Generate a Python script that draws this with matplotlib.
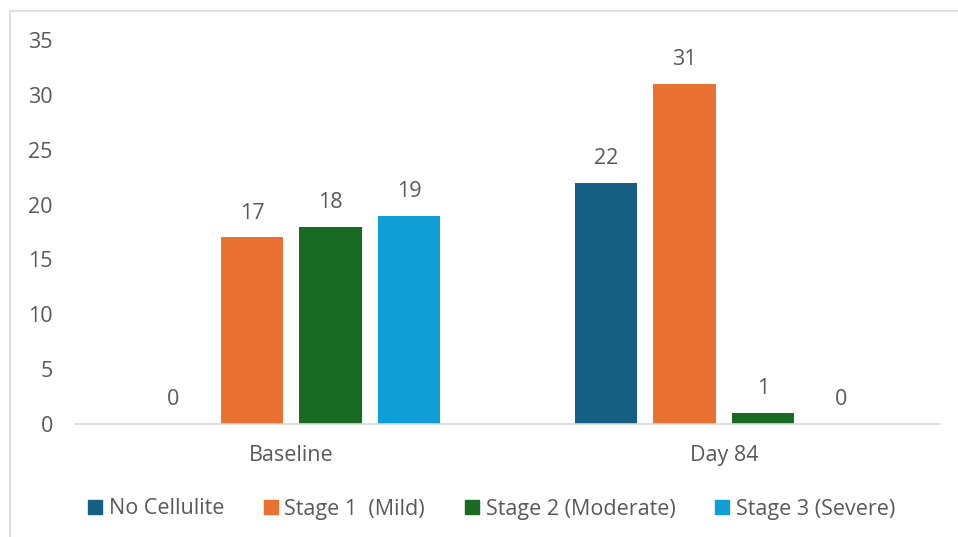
import matplotlib
matplotlib.use("Agg")
import matplotlib.pyplot as plt
import matplotlib.patches as mpatches
import numpy as np

# data
groups = ["Baseline", "Day 84"]
series = ["No Cellulite", "Stage 1  (Mild)", "Stage 2 (Moderate)", "Stage 3 (Severe)"]
no_cellulite = [0, 22]
stage1 = [17, 31]
stage2 = [18, 1]
stage3 = [19, 0]
yticks = [0, 5, 10, 15, 20, 25, 30, 35]

colors = ["#156082", "#E97132", "#196B24", "#0F9ED5"]
text_color = "#595959"
line_color = "#D9D9D9"
fs = 15.5

plt.rcParams["font.family"] = ["Open Sans", "DejaVu Sans"]

W, H = 958, 537
fig = plt.figure(figsize=(W / 100, H / 100), dpi=100)
ax = fig.add_axes([75 / W, 1 - 424 / H, (940 - 75) / W, (424 - 40) / H])

x = np.arange(len(groups))
width = 0.1434
step = 0.1815
values = [no_cellulite, stage1, stage2, stage3]
for i, (vals, name, col) in enumerate(zip(values, series, colors)):
    off = (i - 1.5) * step
    bars = ax.bar(x + off, vals, width, color=col, label=name)
    ax.bar_label(bars, padding=10, fontsize=fs, color=text_color)

ax.set_xlim(-0.5, 1.5)
ax.set_ylim(0, 35)
ax.set_yticks(yticks)
ax.set_xticks(x)
ax.set_xticklabels(groups)
ax.tick_params(axis="both", length=0, labelsize=fs, labelcolor=text_color)
ax.tick_params(axis="y", pad=16)
ax.tick_params(axis="x", pad=15)

for s in ["top", "right", "left"]:
    ax.spines[s].set_visible(False)
ax.spines["bottom"].set_color(line_color)
ax.spines["bottom"].set_linewidth(1.2)

handles = [mpatches.Patch(color=c) for c in colors]
fig.legend(handles, series, loc="center", bbox_to_anchor=(491.5 / W, 1 - 509 / H),
           ncol=4, frameon=False, fontsize=fs, labelcolor=text_color,
           handlelength=0.66, handleheight=0.66, handletextpad=0.3,
           columnspacing=1.85)

# chart border (only left and top edges are visible in the picture)
border = mpatches.Rectangle((9.5 / W, -0.2), 1.2, 1.2 - 11 / H,
                            transform=fig.transFigure, fill=False,
                            edgecolor=line_color, linewidth=1.2)
fig.patches.append(border)

fig.savefig("out.png", dpi=100)
